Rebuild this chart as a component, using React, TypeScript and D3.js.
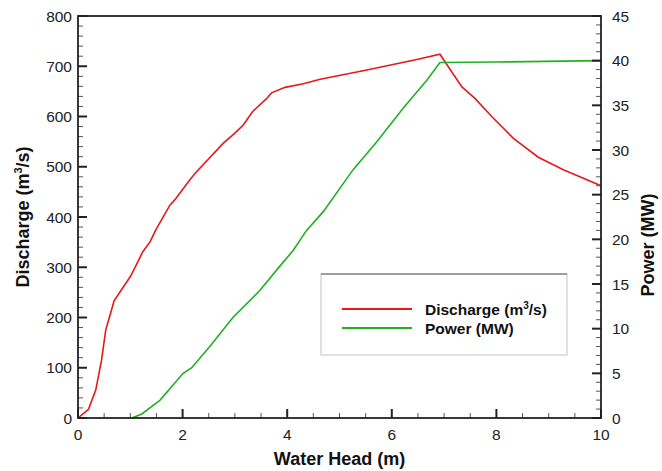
import React from "react";
import * as d3 from "d3";

// Water head (m) and discharge (m³/s) samples
const headQ = [0, 0.2, 0.34, 0.45, 0.53, 0.69, 1.01, 1.24, 1.38, 1.49, 1.76, 1.85, 2.14, 2.24, 2.78, 3.0, 3.16, 3.34, 3.61, 3.7, 3.96, 4.31, 4.63, 5.5, 6.0, 6.5, 6.92, 7.34, 7.59, 7.91, 8.32, 8.8, 9.28, 10];
const discharge = [0, 17, 56, 115, 175, 233, 283, 331, 351, 375, 424, 434, 474, 487, 547, 567, 583, 610, 636, 647, 658, 665, 674, 692, 703, 714, 724, 659, 636, 600, 557, 519, 494, 462];

// Water head (m) and power (MW) samples
const headP = [1.03, 1.22, 1.57, 2.01, 2.17, 2.52, 2.97, 3.48, 3.86, 4.12, 4.37, 4.69, 5.26, 5.71, 6.22, 6.67, 6.92, 8, 10];
const power = [0, 0.45, 2.0, 5.0, 5.6, 8.0, 11.3, 14.3, 17.0, 18.8, 21.0, 23.1, 27.8, 30.9, 34.7, 37.8, 39.8, 39.85, 40];

const xTicks = [0, 2, 4, 6, 8, 10];
const qTicks = [0, 100, 200, 300, 400, 500, 600, 700, 800];
const pTicks = [0, 5, 10, 15, 20, 25, 30, 35, 40, 45];

const legendItems = [
  { key: "q", color: "#e3191c" },
  { key: "p", color: "#21b021" },
];

const W = 662;
const H = 471;
const left = 78;
const right = 601;
const top = 16;
const bottom = 418;

const FONT = "'Liberation Sans', Arial, sans-serif";
const AXIS = "#222";

export default function App() {
  const x = d3.scaleLinear().domain([0, 10]).range([left, right]);
  const yQ = d3.scaleLinear().domain([0, 800]).range([bottom, top]);
  const yP = d3.scaleLinear().domain([0, 45]).range([bottom, top]);

  const qLine = d3
    .line<number>()
    .x((_, i) => x(headQ[i]))
    .y((d) => yQ(d))(discharge) as string;
  const pLine = d3
    .line<number>()
    .x((_, i) => x(headP[i]))
    .y((d) => yP(d))(power) as string;

  const xMinor = d3.range(0, 10.001, 0.5).filter((v) => Math.abs(v % 2) > 1e-6);
  const qMinor = d3.range(0, 800.001, 20).filter((v) => v % 100 !== 0);
  const pMinor = d3.range(0, 45.001, 1).filter((v) => v % 5 !== 0);

  const major = 9;
  const minor = 5;

  return (
    <svg
      width={W}
      height={H}
      style={{ position: "absolute", left: 0, top: 0, background: "#fff" }}
      fontFamily={FONT}
    >
      <rect x={0} y={0} width={W} height={H} fill="#fff" />

      {/* curves */}
      <path d={qLine} fill="none" stroke={legendItems[0].color} strokeWidth={1.6} />
      <path d={pLine} fill="none" stroke={legendItems[1].color} strokeWidth={1.6} />

      {/* minor ticks */}
      <g stroke="#555" strokeWidth={1}>
        {xMinor.map((v) => (
          <line key={"xm" + v} x1={x(v)} x2={x(v)} y1={bottom} y2={bottom - minor} />
        ))}
        {qMinor.map((v) => (
          <line key={"qm" + v} x1={left} x2={left + minor} y1={yQ(v)} y2={yQ(v)} />
        ))}
        {pMinor.map((v) => (
          <line key={"pm" + v} x1={right} x2={right - minor} y1={yP(v)} y2={yP(v)} />
        ))}
      </g>

      {/* major ticks */}
      <g stroke={AXIS} strokeWidth={2}>
        {xTicks.map((v) => (
          <line key={"xt" + v} x1={x(v)} x2={x(v)} y1={bottom} y2={bottom - major} />
        ))}
        {qTicks.map((v) => (
          <line key={"qt" + v} x1={left} x2={left + major} y1={yQ(v)} y2={yQ(v)} />
        ))}
        {pTicks.map((v) => (
          <line key={"pt" + v} x1={right} x2={right - major} y1={yP(v)} y2={yP(v)} />
        ))}
      </g>

      {/* frame */}
      <rect
        x={left}
        y={top}
        width={right - left}
        height={bottom - top}
        fill="none"
        stroke={AXIS}
        strokeWidth={1.8}
      />

      {/* tick labels */}
      <g fontSize={15.5} fill="#222">
        {xTicks.map((v) => (
          <text key={"xl" + v} x={x(v)} y={bottom + 22} textAnchor="middle">
            {v}
          </text>
        ))}
        {qTicks.map((v) => (
          <text key={"ql" + v} x={left - 6} y={yQ(v) + 5.5} textAnchor="end">
            {v}
          </text>
        ))}
        {pTicks.map((v) => (
          <text key={"pl" + v} x={right + 11} y={yP(v) + 5.5} textAnchor="start">
            {v}
          </text>
        ))}
      </g>

      {/* axis titles */}
      <text
        x={(left + right) / 2}
        y={H - 6}
        textAnchor="middle"
        fontSize={18}
        fontWeight="bold"
        fill="#111"
      >
        Water Head (m)
      </text>
      <text
        transform={`translate(29,${(top + bottom) / 2}) rotate(-90)`}
        textAnchor="middle"
        fontSize={18}
        fontWeight="bold"
        fill="#111"
      >
        Discharge (m
        <tspan dy={-7} fontSize={11}>
          3
        </tspan>
        <tspan dy={7}>/s)</tspan>
      </text>
      <text
        transform={`translate(654,${(top + bottom) / 2 + 28}) rotate(-90)`}
        textAnchor="middle"
        fontSize={18}
        fontWeight="bold"
        fill="#111"
      >
        Power (MW)
      </text>

      {/* legend */}
      <g>
        <rect x={321} y={274} width={246} height={81} fill="#fff" stroke="#c4c4c4" strokeWidth={1} />
        <line x1={321} x2={567} y1={274} y2={274} stroke="#888" strokeWidth={1.5} />
        {legendItems.map((it, i) => (
          <g key={it.key}>
            <line
              x1={342}
              x2={412}
              y1={309 + i * 19}
              y2={309 + i * 19}
              stroke={it.color}
              strokeWidth={1.8}
            />
            <text x={425} y={314.5 + i * 19} fontSize={15.5} fontWeight="bold" fill="#111">
              {it.key === "q" ? (
                <>
                  Discharge (m
                  <tspan dy={-6} fontSize={10}>
                    3
                  </tspan>
                  <tspan dy={6}>/s)</tspan>
                </>
              ) : (
                "Power (MW)"
              )}
            </text>
          </g>
        ))}
      </g>
    </svg>
  );
}
